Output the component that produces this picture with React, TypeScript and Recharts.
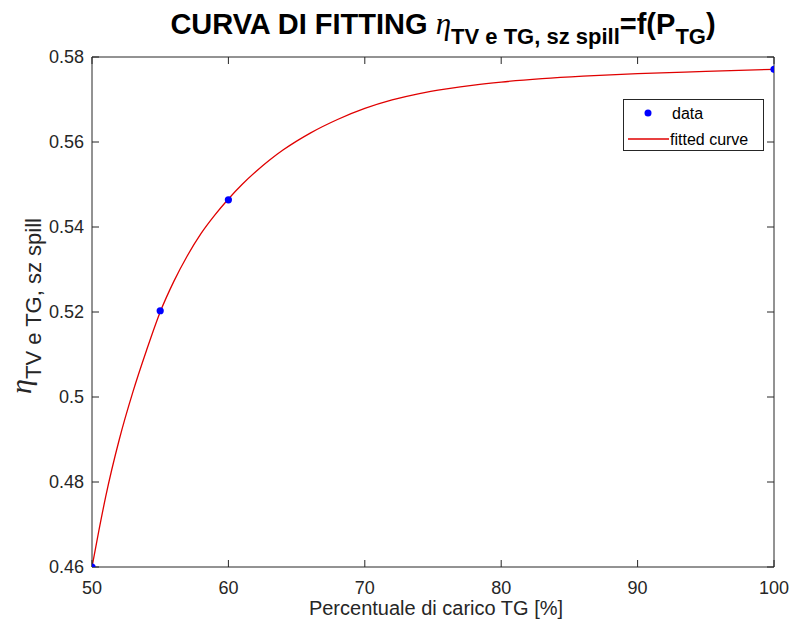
import React from 'react'
import { ComposedChart, Line, Scatter, XAxis, YAxis, ReferenceLine } from 'recharts'

// measured points
const dataX = [50, 55, 60, 100]
const dataY = [0.46, 0.5203, 0.5464, 0.5771]

// fitted curve
const fitX = [50, 50.5, 51, 52, 53, 54, 55, 56, 57, 58, 59, 60, 61, 62, 63, 64, 65, 66, 68, 70, 72, 74, 76, 78, 80, 83, 86, 90, 95, 100]
const fitY = [
  0.46, 0.4685, 0.4765, 0.49, 0.5012, 0.511, 0.52, 0.5272, 0.5333, 0.5385, 0.5428, 0.5466, 0.55, 0.553, 0.5557, 0.5581,
  0.5602, 0.5621, 0.5653, 0.5679, 0.5699, 0.5714, 0.5725, 0.5734, 0.5741, 0.5749, 0.5755, 0.5761, 0.5766, 0.5771,
]

const xTicks = [50, 60, 70, 80, 90, 100]
const yTicks = [0.46, 0.48, 0.5, 0.52, 0.54, 0.56, 0.58]

const points = dataX.map((x, i) => ({ x, y: dataY[i] }))
const curve = fitX.map((x, i) => ({ x, y: fitY[i] }))

const AX = '#262626'
const FONT = '"Liberation Sans", Arial, Helvetica, sans-serif'
const SERIF = '"Liberation Serif", "DejaVu Serif", serif'
const TICK = 7

// inward tick at the top end of a vertical reference line
const TopTick = (p: any) => {
  const y = Math.min(p.y1, p.y2)
  return <line x1={p.x1} x2={p.x1} y1={y} y2={y + TICK} stroke={AX} />
}
// inward tick at the right end of a horizontal reference line
const RightTick = (p: any) => {
  const x = Math.max(p.x1, p.x2)
  return <line x1={x} x2={x - TICK} y1={p.y1} y2={p.y1} stroke={AX} />
}

function LegendBox() {
  return (
    <div
      style={{
        position: 'absolute',
        left: 623,
        top: 99,
        width: 139,
        height: 50,
        border: `1px solid ${AX}`,
        background: '#fff',
      }}
    >
      <svg width={139} height={50} style={{ position: 'absolute', left: 0, top: 0 }}>
        <circle cx={24} cy={13} r={3.5} fill="#0000ff" />
        <line x1={4} x2={45} y1={39} y2={39} stroke="#e00000" strokeWidth={1.3} />
        <text x={48} y={19} fontSize={16} fontFamily={FONT} fill="#000">data</text>
        <text x={46} y={45} fontSize={16} fontFamily={FONT} fill="#000">fitted curve</text>
      </svg>
    </div>
  )
}

export default function App() {
  return (
    <div style={{ position: 'absolute', left: 0, top: 0, width: 793, height: 632, background: '#fff', fontFamily: FONT }}>
      <ComposedChart width={793} height={632} margin={{ top: 57, right: 19, bottom: 25, left: 32 }}>
        <XAxis
          dataKey="x"
          type="number"
          domain={[50, 100]}
          ticks={xTicks}
          allowDataOverflow
          height={40}
          stroke={AX}
          tickSize={-TICK}
          tickMargin={21}
          tick={{ fill: AX, fontSize: 18 }}
        />
        <YAxis
          dataKey="y"
          type="number"
          domain={[0.46, 0.58]}
          ticks={yTicks}
          allowDataOverflow
          width={60}
          stroke={AX}
          tickSize={-TICK}
          tickMargin={15}
          tick={{ fill: AX, fontSize: 18 }}
          tickFormatter={(v: number) => String(Number(v.toFixed(2)))}
        />

        {/* box: top and right edges with inward ticks */}
        <ReferenceLine y={0.58} stroke={AX} />
        <ReferenceLine x={100} stroke={AX} />
        {xTicks.map((t) => (
          <ReferenceLine key={`tx${t}`} x={t} shape={TopTick} />
        ))}
        {yTicks.map((t) => (
          <ReferenceLine key={`ry${t}`} y={t} shape={RightTick} />
        ))}

        <Scatter
          data={points}
          dataKey="y"
          fill="#0000ff"
          isAnimationActive={false}
          shape={(p: any) => <circle cx={p.cx} cy={p.cy} r={3.6} fill="#0000ff" />}
        />
        <Line
          data={curve}
          dataKey="y"
          type="monotone"
          stroke="#e00000"
          strokeWidth={1.3}
          dot={false}
          activeDot={false}
          isAnimationActive={false}
        />
        {/* title */}
        <text x={443} y={34} textAnchor="middle" fontFamily={FONT} fill="#000">
          <tspan fontSize={29} fontWeight="bold">CURVA DI FITTING </tspan>
          <tspan fontSize={31} fontStyle="italic" fontFamily={SERIF}>η</tspan>
          <tspan fontSize={22} fontWeight="bold" dy={10}>TV e TG, sz spill</tspan>
          <tspan fontSize={29} fontWeight="bold" dy={-10}>=f(P</tspan>
          <tspan fontSize={22} fontWeight="bold" dy={10}>TG</tspan>
          <tspan fontSize={29} fontWeight="bold" dy={-10}>)</tspan>
        </text>
        {/* x label */}
        <text x={436} y={615} textAnchor="middle" fontFamily={FONT} fontSize={20} fill={AX}>
          Percentuale di carico TG [%]
        </text>
        {/* y label */}
        <text x={0} y={0} transform="translate(31,306) rotate(-90)" textAnchor="middle" fontFamily={FONT} fill={AX}>
          <tspan fontSize={30} fontStyle="italic" fontFamily={SERIF}>η</tspan>
          <tspan fontSize={22} dy={10}>TV e TG, sz spill</tspan>
        </text>
      </ComposedChart>
      <LegendBox />
    </div>
  )
}
